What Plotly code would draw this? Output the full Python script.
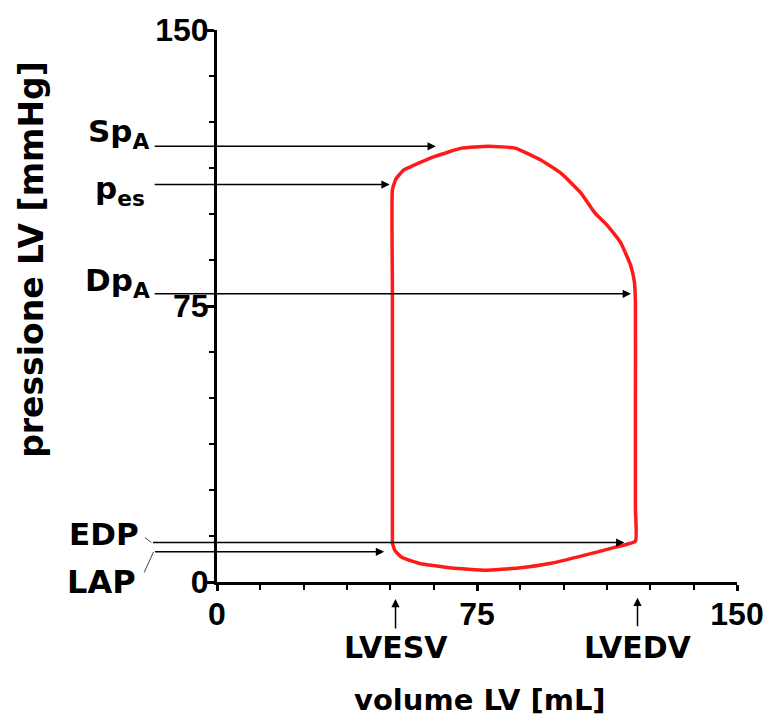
import plotly.graph_objects as go

# Pressure-volume loop of the left ventricle (volume in mL, pressure in mmHg)
loop_volume = [50.6, 50.6, 50.6, 50.6, 51.6, 53.9, 56.2, 63.1, 70.5, 78.3, 86.0, 93.5, 99.2,
               105.0, 109.0, 112.7, 116.4, 119.3, 120.4, 120.7, 120.7, 120.7, 120.7, 114.7,
               106.1, 96.4, 86.9, 77.4, 67.7, 58.2, 53.3, 51.3, 50.6, 50.6]
loop_pressure = [10.5, 40.0, 80.0, 106.6, 109.5, 112.0, 113.0, 115.7, 117.9, 118.4, 117.9, 114.6,
                 111.1, 105.7, 100.3, 96.8, 92.3, 86.1, 81.5, 76.1, 50.0, 20.0, 11.1, 9.4,
                 7.3, 5.1, 3.8, 3.2, 3.8, 5.1, 6.7, 8.6, 10.5, 10.5]

# Characteristic values marked on the loop
SpA = 118.4    # systolic aortic pressure
pes = 108.0    # end-systolic pressure
DpA = 78.3     # diastolic aortic pressure
EDP = 10.7     # end-diastolic pressure
LAP = 8.2      # left atrial pressure
LVESV = 51.5   # end-systolic volume
LVEDV = 121.3  # end-diastolic volume

axis_ticks = [0, 75, 150]
axis_labels = ["0", "75", "150"]
X_RANGE = [0, 150]
Y_RANGE = [0, 150]

# Plot area in pixels
WIDTH, HEIGHT = 776, 720
MARGIN = dict(l=217, r=36, t=26, b=138)
PX_X = (WIDTH - MARGIN["l"] - MARGIN["r"]) / (X_RANGE[1] - X_RANGE[0])
PX_Y = (HEIGHT - MARGIN["t"] - MARGIN["b"]) / (Y_RANGE[1] - Y_RANGE[0])


def fx(v):
    """Volume value -> paper fraction along x."""
    return (v - X_RANGE[0]) / (X_RANGE[1] - X_RANGE[0])


def fy(p):
    """Pressure value -> paper fraction along y."""
    return (p - Y_RANGE[0]) / (Y_RANGE[1] - Y_RANGE[0])


BOLD = dict(family="DejaVu Sans", color="black", weight="bold")
TICKFONT = dict(family="Liberation Sans", size=32, color="black", weight="bold")

fig = go.Figure()
fig.add_trace(go.Scatter(
    x=loop_volume, y=loop_pressure, mode="lines",
    line=dict(color="#ff1a1a", width=3.5, shape="spline", smoothing=0.4),
    hoverinfo="skip", showlegend=False))

annotations = []
ARROW = dict(text="", showarrow=True, arrowsize=1.1, standoff=0, startstandoff=0)


def h_arrow(x_tip, y, x_tail):
    """Horizontal arrow at pressure y, tip inside the plot."""
    annotations.append(dict(ARROW, x=x_tip, y=y, ax=x_tail, ay=y, xref="x", yref="y",
                            axref="x", ayref="y", arrowhead=2, arrowwidth=1.5,
                            arrowcolor="black"))


def v_arrow(x, y_tip, y_tail):
    """Upward arrow under the volume axis."""
    annotations.append(dict(ARROW, x=x, y=fy(y_tip), xref="x", yref="paper",
                            ax=x, axref="x", ay=(y_tip - y_tail) * PX_Y, ayref="pixel",
                            arrowhead=2, arrowwidth=1.5, arrowcolor="black"))


def leader(x_end, y_end, x_start, y_start):
    """Thin connector from a label to its arrow, left of the pressure axis."""
    annotations.append(dict(ARROW, x=fx(x_end), y=y_end, xref="paper", yref="y",
                            ax=(x_start - x_end) * PX_X, axref="pixel",
                            ay=(y_end - y_start) * PX_Y, ayref="pixel",
                            arrowhead=0, arrowwidth=1, arrowcolor="#444444"))


def label(text, x, y, size, xanchor="center", yanchor="middle", angle=0):
    annotations.append(dict(
        x=fx(x), y=fy(y), xref="paper", yref="paper", text=text, showarrow=False,
        xanchor=xanchor, yanchor=yanchor, textangle=angle,
        font=dict(BOLD, size=size)))


# Horizontal arrows from the pressure labels
h_arrow(63.1, SpA, -18.4)
h_arrow(49.8, pes, -18.4)
h_arrow(119.4, DpA, -18.4)
h_arrow(117.5, EDP, -18.9)
h_arrow(48.2, LAP, -18.3)

# Short leader lines from EDP / LAP text to their arrows
leader(-18.9, EDP, -21.2, 12.4)
leader(-18.3, LAP, -21.2, 2.2)

# Vertical arrows under the volume axis
v_arrow(LVESV, -4.6, -13.0)
v_arrow(LVEDV, -4.3, -12.4)

label("Sp<sub>A</sub>", -37.9, 122.0, 31, xanchor="left")
label("p<sub>es</sub>", -35.9, 106.5, 31, xanchor="left")
label("Dp<sub>A</sub>", -38.7, 81.5, 31, xanchor="left")
label("EDP", -32.5, 13.1, 31)
label("LAP", -33.4, 0.1, 32)
label("LVESV", LVESV, -17.8, 30)
label("LVEDV", LVEDV, -17.8, 30)
label("volume LV [mL]", 76.0, -32.0, 29)
label("pressione LV [mmHg]", -53.6, 87.6, 33, angle=-90)

axis_common = dict(
    tickmode="array", tickvals=axis_ticks, ticktext=axis_labels,
    showgrid=False, zeroline=False,
    showline=True, linecolor="black", linewidth=3,
    ticks="outside", tickcolor="black", tickwidth=3,
    tickfont=TICKFONT,
    minor=dict(dtick=12.5, tick0=0, ticks="outside", ticklen=5,
               tickwidth=2, tickcolor="black"),
)

fig.update_xaxes(**axis_common, range=X_RANGE, ticklen=6, ticklabelstandoff=-4)
fig.update_yaxes(**axis_common, range=Y_RANGE, ticklen=10, ticklabelstandoff=-11)

fig.update_layout(
    width=WIDTH, height=HEIGHT, autosize=False,
    margin=MARGIN,
    plot_bgcolor="white", paper_bgcolor="white",
    annotations=annotations,
)

fig.write_html("out.html")
